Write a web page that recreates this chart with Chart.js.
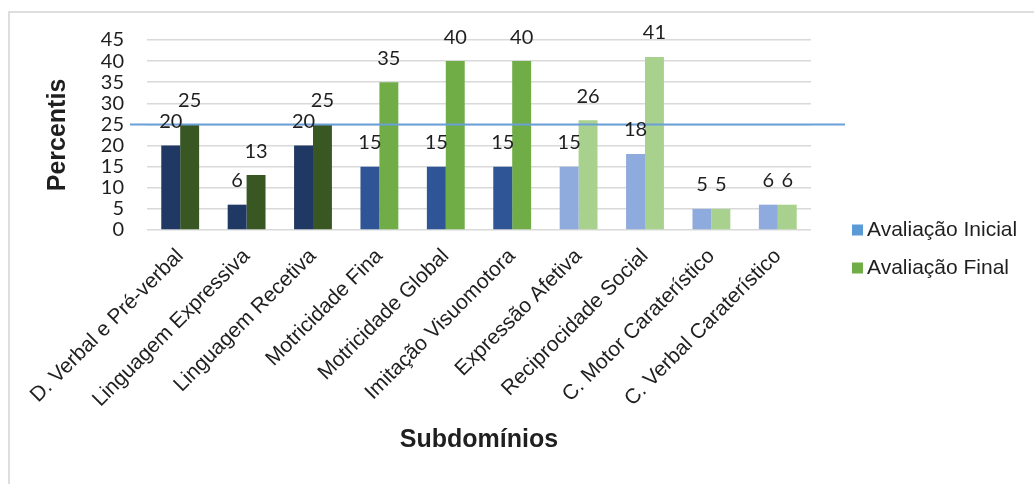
<!DOCTYPE html>
<html lang="pt">
<head>
<meta charset="UTF-8">
<title>Subdomínios - Avaliação Inicial e Final</title>
<script src="https://cdn.jsdelivr.net/npm/chart.js"></script>
<style>
  html, body { margin: 0; padding: 0; background: #fff; overflow: hidden; }
  .frame {
    position: absolute; left: 8px; top: 11px;
    width: 1100px; height: 540px;
    border: 2px solid #dedede; background: #fff;
  }
  #chart { position: absolute; left: 0; top: 0; }
</style>
</head>
<body>
<div class="frame"></div>
<canvas id="chart" width="1034" height="484"></canvas>
<script>
// data
const categories = [
  'D. Verbal e Pré-verbal', 'Linguagem Expressiva', 'Linguagem Recetiva',
  'Motricidade Fina', 'Motricidade Global', 'Imitação Visuomotora',
  'Expressão Afetiva', 'Reciprocidade Social', 'C. Motor Caraterístico',
  'C. Verbal Caraterístico'
];
const seriesNames = ['Avaliação Inicial', 'Avaliação Final'];
const avaliacaoInicial = [20, 6, 20, 15, 15, 15, 15, 18, 5, 6];
const avaliacaoFinal = [25, 13, 25, 35, 40, 40, 26, 41, 5, 6];
const yMin = 0, yMax = 45, yStep = 5;
const referenceValue = 25;

// styles
const inicialColors = ['#203864', '#203864', '#203864', '#2F5597', '#2F5597', '#2F5597',
  '#8FAADC', '#8FAADC', '#8FAADC', '#8FAADC'];
const finalColors = ['#385723', '#385723', '#385723', '#70AD47', '#70AD47', '#70AD47',
  '#A9D18E', '#A9D18E', '#A9D18E', '#A9D18E'];
const legendColors = ['#5B9BD5', '#70AD47'];
const textColor = '#1f1f1f';
const numFont = "Lato, 'Open Sans', sans-serif";
const txtFont = "'Liberation Sans', Arial, sans-serif";

// value labels above the bars + the reference line
const valueLabels = {
  id: 'valueLabels',
  afterDatasetsDraw(chart) {
    const ctx = chart.ctx;
    const y = chart.scales.y.getPixelForValue(referenceValue);
    const area = chart.chartArea;
    ctx.save();
    ctx.strokeStyle = '#6A9FD8';
    ctx.lineWidth = 2;
    ctx.beginPath();
    ctx.moveTo(area.left - 17, y);
    ctx.lineTo(area.right + 34, y);
    ctx.stroke();

    ctx.font = '20px ' + numFont;
    ctx.fillStyle = textColor;
    ctx.textAlign = 'center';
    ctx.textBaseline = 'middle';
    chart.data.datasets.forEach((ds, i) => {
      chart.getDatasetMeta(i).data.forEach((bar, j) => {
        ctx.fillText(String(ds.data[j]), bar.x, bar.y - 24);
      });
    });
    ctx.restore();
  }
};

// legend on the right, Excel style
const sideLegend = {
  id: 'sideLegend',
  afterDraw(chart) {
    const ctx = chart.ctx;
    const area = chart.chartArea;
    ctx.save();
    ctx.font = '21px ' + txtFont;
    ctx.textBaseline = 'middle';
    ctx.textAlign = 'left';
    seriesNames.forEach((name, i) => {
      const cy = area.bottom + i * 38;
      ctx.fillStyle = legendColors[i];
      ctx.fillRect(area.right + 41, cy - 5.5, 11, 11);
      ctx.fillStyle = textColor;
      ctx.fillText(name, area.right + 56, cy);
    });
    ctx.restore();
  }
};

const chart = new Chart(document.getElementById('chart'), {
  type: 'bar',
  data: {
    labels: categories,
    datasets: [
      { label: seriesNames[0], data: avaliacaoInicial, backgroundColor: inicialColors },
      { label: seriesNames[1], data: avaliacaoFinal, backgroundColor: finalColors }
    ]
  },
  options: {
    responsive: false,
    animation: false,
    devicePixelRatio: 1,
    layout: { padding: { left: 43, right: 223, top: 40, bottom: 29 } },
    datasets: { bar: { categoryPercentage: 0.57, barPercentage: 1 } },
    plugins: {
      legend: { display: false },
      tooltip: { enabled: false }
    },
    scales: {
      x: {
        grid: { display: false },
        border: { display: false },
        ticks: {
          minRotation: 45, maxRotation: 45, padding: 6, autoSkip: false,
          color: textColor,
          font: { family: txtFont, size: 21 }
        },
        title: {
          display: true, text: 'Subdomínios', color: textColor, padding: 0,
          font: { family: txtFont, size: 25, weight: 'bold' }
        },
        afterFit(scale) { scale.height = 225; }
      },
      y: {
        min: yMin, max: yMax,
        grid: { color: '#d9d9d9', lineWidth: 1.5, drawTicks: false },
        border: { display: false },
        ticks: {
          stepSize: yStep, padding: 23, autoSkip: false, color: textColor,
          font: { family: numFont, size: 20 }
        },
        title: {
          display: true, text: 'Percentis', color: textColor, padding: 0,
          font: { family: txtFont, size: 25, weight: 'bold' }
        },
        afterFit(scale) { scale.width = 104; }
      }
    }
  },
  plugins: [valueLabels, sideLegend]
});
</script>
</body>
</html>
